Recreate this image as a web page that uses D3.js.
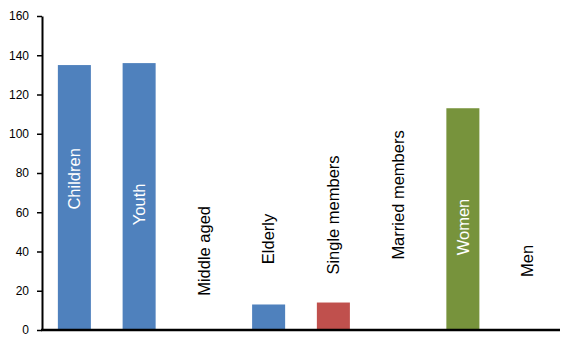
<!DOCTYPE html>
<html>
<head>
<meta charset="utf-8">
<script src="https://cdn.jsdelivr.net/npm/d3@7"></script>
<style>
  body { margin: 0; background: #fff; }
  svg { display: block; font-family: "Liberation Sans", Arial, sans-serif; }
</style>
</head>
<body>
<div id="chart"></div>
<script>
// data
var categories = ["Children", "Youth", "Middle aged", "Elderly", "Single members", "Married members", "Women", "Men"];
var values = [135, 136, 0, 13, 14, 0, 113, 0];
var colors = ["#4F81BD", "#4F81BD", "#4F81BD", "#4F81BD", "#C0504D", "#C0504D", "#77933C", "#77933C"];
// where each category label sits (its middle, in axis units)
var labelAt = [77, 64, 40.3, 46.4, 58.6, 68.8, 52.5, 35.2];
var yTicks = [0, 20, 40, 60, 80, 100, 120, 140, 160];

var width = 575, height = 346;
var margin = { top: 16, right: 15, bottom: 16, left: 42 };

var svg = d3.select('#chart')
  .append('svg')
    .attr('width', width)
    .attr('height', height);

var x = d3.scaleBand()
  .domain(categories)
  .range([margin.left, width - margin.right])
  .paddingInner(0.49)
  .paddingOuter(0.245);

var y = d3.scaleLinear()
  .domain([0, 160])
  .range([height - margin.bottom, margin.top]);

// bars
svg.selectAll('rect.bar')
  .data(values)
  .enter()
    .append('rect')
    .attr('class', 'bar')
    .attr('x', function (d, i) { return x(categories[i]); })
    .attr('y', function (d) { return y(d); })
    .attr('width', x.bandwidth())
    .attr('height', function (d) { return y(0) - y(d); })
    .attr('fill', function (d, i) { return colors[i]; });

// y axis
var yAxis = svg.append('g')
  .attr('transform', 'translate(' + margin.left + ',0)')
  .call(d3.axisLeft(y).tickValues(yTicks).tickSize(5).tickPadding(8).tickSizeOuter(0));
yAxis.select('.domain').attr('stroke', '#000').attr('stroke-width', 2);
yAxis.selectAll('.tick line').attr('stroke', '#000').attr('stroke-width', 1.5);
yAxis.selectAll('.tick text')
  .attr('fill', '#000')
  .style('font-size', '12px')
  .style('font-family', '"Liberation Sans", Arial, sans-serif');

// x axis baseline
svg.append('line')
  .attr('x1', margin.left - 1)
  .attr('x2', width - margin.right)
  .attr('y1', y(0))
  .attr('y2', y(0))
  .attr('stroke', '#000')
  .attr('stroke-width', 2.5);

// rotated category labels
svg.selectAll('text.cat')
  .data(categories)
  .enter()
    .append('text')
    .attr('class', 'cat')
    .attr('transform', function (d, i) {
      return 'translate(' + (x(d) + x.bandwidth() / 2) + ',' + y(labelAt[i]) + ') rotate(-90)';
    })
    .attr('text-anchor', 'middle')
    .attr('dy', '0.35em')
    .style('font-size', '16.5px')
    .attr('fill', function (d, i) { return labelAt[i] < values[i] ? '#fff' : '#000'; })
    .text(function (d) { return d; });
</script>
</body>
</html>
